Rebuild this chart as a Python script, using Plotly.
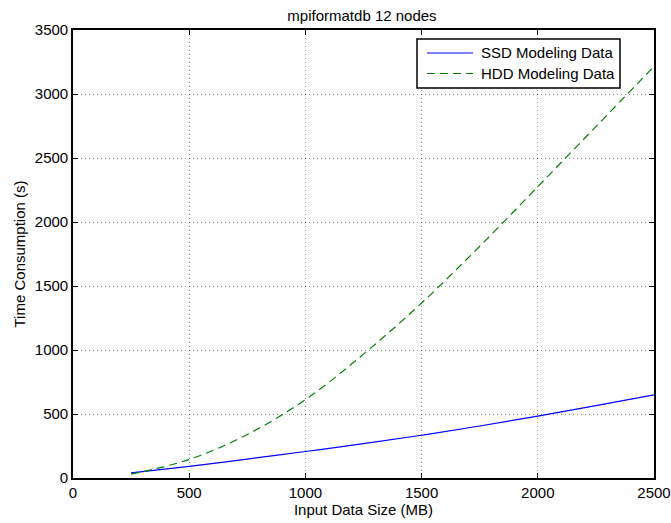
import plotly.graph_objects as go

input_size = [250, 500, 750, 1000, 1250, 1500, 1750, 2000, 2250, 2500]
ssd_time = [40, 91, 148, 207, 268, 334, 406, 484, 565, 650]
hdd_time = [30, 145, 340, 612, 968, 1367, 1810, 2276, 2745, 3215]

x_ticks = [0, 500, 1000, 1500, 2000, 2500]
y_ticks = [0, 500, 1000, 1500, 2000, 2500, 3000, 3500]

series_names = ["SSD Modeling Data", "HDD Modeling Data"]
series_colors = ["#0000FF", "#008000"]
series_dash = ["solid", "8px,5px"]

font_family = "Liberation Sans, Arial, Helvetica, sans-serif"
FS = 15

W, H = 671, 523
L, R, T, B = 73, 17, 30, 45
PW, PH = W - L - R, H - T - B


def px_x(p):
    return (p - L) / PW


def px_y(p):
    return (H - B - p) / PH


fig = go.Figure()
for xs, ys, nm, col, ds in [(input_size, ssd_time, series_names[0], series_colors[0], series_dash[0]),
                            (input_size, hdd_time, series_names[1], series_colors[1], series_dash[1])]:
    fig.add_trace(go.Scatter(x=xs, y=ys, mode="lines", name=nm, showlegend=False,
                             line=dict(color=col, width=1.2, dash=ds, shape="spline")))

axis_common = dict(
    showline=True, linecolor="black", linewidth=1.6, mirror="ticks",
    ticks="inside", ticklen=5, tickcolor="black", tickwidth=1,
    showgrid=True, gridcolor="rgba(0,0,0,0.45)", gridwidth=1, griddash="1px,3px",
    zeroline=False, automargin=False,
    tickfont=dict(size=FS, color="black", family=font_family),
)

fig.update_xaxes(range=[0, 2500], tickvals=x_ticks, ticktext=[str(v) for v in x_ticks],
                 title=dict(text="Input Data Size (MB)", font=dict(size=FS, color="black", family=font_family), standoff=2),
                 **axis_common)
fig.update_yaxes(range=[0, 3500], tickvals=y_ticks, ticktext=[str(v) for v in y_ticks],
                 title=dict(text="Time Consumption (s)", font=dict(size=FS, color="black", family=font_family), standoff=6),
                 **axis_common)

# legend box (drawn manually to match the MATLAB legend geometry)
box_l, box_r, box_t, box_b = 417, 620, 39, 88
shapes = [dict(type="rect", xref="paper", yref="paper",
               x0=px_x(box_l), x1=px_x(box_r), y0=px_y(box_b), y1=px_y(box_t),
               line=dict(color="black", width=1.5), fillcolor="white", layer="above")]
annotations = []
row_y = [53, 73.5]
for i in range(2):
    shapes.append(dict(type="line", xref="paper", yref="paper",
                       x0=px_x(427), x1=px_x(473), y0=px_y(row_y[i]), y1=px_y(row_y[i]),
                       line=dict(color=series_colors[i], width=1.2, dash=series_dash[i]), layer="above"))
    annotations.append(dict(xref="paper", yref="paper", x=px_x(479), y=px_y(row_y[i]),
                            xanchor="left", yanchor="middle", showarrow=False,
                            text=series_names[i],
                            font=dict(size=FS, color="black", family=font_family)))

fig.update_layout(
    width=W, height=H,
    margin=dict(l=L, r=R, t=T, b=B),
    paper_bgcolor="white", plot_bgcolor="white",
    title=dict(text="mpiformatdb 12 nodes", x=362 / W, xanchor="center", xref="container",
               y=1 - 16 / H, yanchor="middle", yref="container",
               font=dict(size=FS, color="black", family=font_family)),
    shapes=shapes, annotations=annotations,
    showlegend=False,
)

fig.write_html("out.html")
